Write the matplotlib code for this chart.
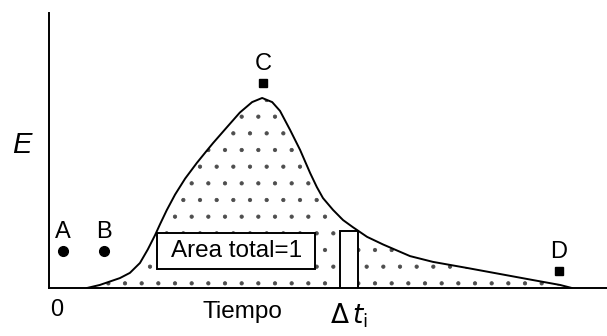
"""Curva de distribucion de tiempos de residencia E(t) con area total unitaria."""

import numpy as np
import matplotlib
matplotlib.use("Agg")
import matplotlib.pyplot as plt
from matplotlib.patches import Rectangle

plt.rcParams["font.family"] = ["Liberation Sans", "DejaVu Sans"]
plt.rcParams["hatch.linewidth"] = 0.6

# curva E(t) leida punto a punto
tiempo = [0.68, 0.91, 1.27, 1.45, 1.63, 1.77, 1.90, 1.99, 2.11, 2.26, 2.44,
          2.65, 2.83, 2.94, 3.19, 3.42, 3.64, 3.82, 4.00, 4.14, 4.32, 4.50,
          4.68, 4.80, 4.91, 5.09, 5.27, 5.44, 5.70, 5.99, 6.47, 6.88, 7.49,
          8.08, 8.67, 9.16, 9.37]
E = [0.0, 0.011, 0.036, 0.055, 0.091, 0.140, 0.192, 0.232, 0.283, 0.340,
     0.398, 0.455, 0.500, 0.527, 0.585, 0.638, 0.676, 0.691, 0.676, 0.644,
     0.575, 0.502, 0.418, 0.367, 0.327, 0.284, 0.247, 0.222, 0.186, 0.158,
     0.116, 0.095, 0.073, 0.051, 0.029, 0.011, 0.0]

# puntos de muestreo A-D
puntos = ["A", "B", "C", "D"]
puntos_t = [0.25, 0.99, 3.84, 9.14]
puntos_E = [0.135, 0.135, 0.745, 0.062]
puntos_marca = ["o", "o", "s", "s"]

# franja delta t_i
dt_inicio = 5.22
dt_ancho = 0.32

fig = plt.figure(figsize=(6.07, 3.36), dpi=100)
ax = fig.add_axes([49 / 607, 1 - 288 / 336, 1 - 49 / 607, 275 / 336])
ax.set_xlim(0, 10)
ax.set_ylim(0, 1)

ax.fill_between(tiempo, E, 0, facecolor="white", edgecolor="0.3",
                hatch=".", linewidth=0)
ax.plot(tiempo, E, color="black", lw=1.4, solid_joinstyle="round")

# caja "Area total=1"
ax.add_patch(Rectangle((1.94, 0.069), 2.83, 0.131, facecolor="white",
                       edgecolor="black", lw=1.4, zorder=3))
ax.text(3.355, 0.134, "Area total=1", ha="center", va="center",
        fontsize=17.5, zorder=4)

# rectangulo de ancho delta t_i hasta la curva
alto = np.interp(dt_inicio + dt_ancho, tiempo, E)
ax.add_patch(Rectangle((dt_inicio, 0), dt_ancho, alto, facecolor="white",
                       edgecolor="black", lw=1.4, zorder=3))

for nombre, t, e, m in zip(puntos, puntos_t, puntos_E, puntos_marca):
    ax.plot(t, e, marker=m, color="black", ms=7 if m == "o" else 6,
            ls="none", zorder=5)
    ax.annotate(nombre, (t, e), xytext=(0, 19), textcoords="offset pixels",
                ha="center", va="center", fontsize=17)

for lado in ("top", "right"):
    ax.spines[lado].set_visible(False)
for lado in ("left", "bottom"):
    ax.spines[lado].set_linewidth(1.4)
ax.set_xticks([])
ax.set_yticks([])

ax.annotate("0", (0.14, 0), xytext=(0, -22), textcoords="offset pixels",
            ha="center", va="center", fontsize=17)
ax.annotate("Tiempo", (3.46, 0), xytext=(0, -24), textcoords="offset pixels",
            ha="center", va="center", fontsize=17.5)
ax.annotate(r"$\Delta\,t_{\rm i}$", (dt_inicio + dt_ancho / 2, 0),
            xytext=(0, -28), textcoords="offset pixels",
            ha="center", va="center", fontsize=19)
ax.text(-0.048, 0.52, "E", transform=ax.transAxes, ha="center",
        va="center", fontsize=21, style="italic", fontweight="light")

fig.savefig("out.png", dpi=100)
